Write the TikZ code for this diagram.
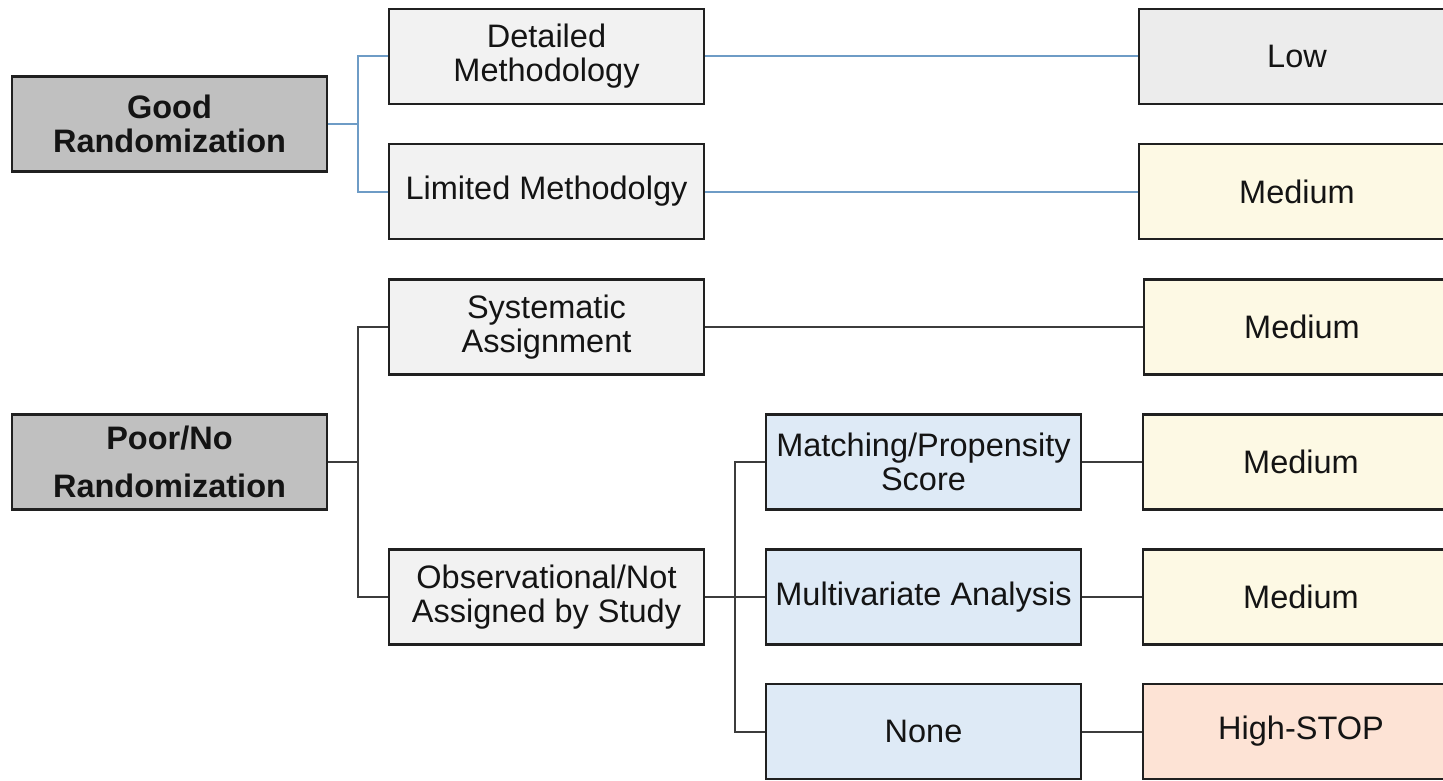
\documentclass[tikz,border=0pt]{standalone}
\usepackage{fontspec}
\setmainfont{Liberation Sans}
\definecolor{rootfill}{HTML}{C0C0C0}
\definecolor{midfill}{HTML}{F2F2F2}
\definecolor{lowfill}{HTML}{ECECEC}
\definecolor{medfill}{HTML}{FDF9E4}
\definecolor{highfill}{HTML}{FDE3D5}
\definecolor{bluefill}{HTML}{DEEAF6}
\definecolor{blueline}{HTML}{6E9CC6}
\definecolor{darkline}{HTML}{3C3C3C}
\definecolor{border}{HTML}{202020}
\definecolor{txt}{HTML}{141414}
\tikzset{
  box/.style={draw=border, line width=2.2pt, rectangle, minimum width=315pt, minimum height=95pt,
    inner sep=0pt, align=center, text=txt, font=\fontsize{32.5}{34}\selectfont},
  rootbox/.style={box, fill=rootfill, font=\fontsize{32.5}{34}\selectfont\bfseries},
  midbox/.style={box, fill=midfill},
  subbox/.style={box, fill=bluefill},
  lowbox/.style={box, fill=lowfill, minimum width=316pt},
  medbox/.style={box, fill=medfill, minimum width=316pt},
  highbox/.style={box, fill=highfill, minimum width=316pt},
  bline/.style={draw=blueline, line width=2pt},
  dline/.style={draw=darkline, line width=2pt}
}
\begin{document}
\begin{tikzpicture}[x=1pt, y=-1pt]
\useasboundingbox (0,0) rectangle (1443,781);
\clip (0,0) rectangle (1443,781);
\fill[white] (0,0) rectangle (1443,781);
\coordinate (g1) at (358,124);
\coordinate (p1) at (358,462);
\coordinate (o1) at (735,597);
% nodes
\node[rootbox] (good) at (169.5,124) {Good\\Randomization};
\node[rootbox] (poor) at (169.5,462) {Poor/No\\[14pt]Randomization};
\node[midbox] (det) at (546.5,56.5) {Detailed\\Methodology};
\node[midbox] (lim) at (546.5,191.5) {Limited Methodolgy};
\node[midbox] (sys) at (546.5,327) {Systematic\\Assignment};
\node[midbox] (obs) at (546.5,597) {Observational/Not\\Assigned by Study};
\node[subbox] (mat) at (923.5,462) {Matching/Propensity\\Score};
\node[subbox] (mul) at (923.5,597) {Multivariate Analysis};
\node[subbox] (non) at (923.5,731.5) {None};
\node[lowbox] (low) at (1297,56.5) {Low};
\node[medbox] (med1) at (1297,191.5) {Medium};
\node[medbox] (med2) at (1302,327) {Medium};
\node[medbox] (med3) at (1301,462) {Medium};
\node[medbox] (med4) at (1301,597) {Medium};
\node[highbox] (high) at (1301,731.5) {High-STOP};
% edges
\draw[bline] (good.east) -- (g1) |- (det.west);
\draw[bline] (g1) |- (lim.west);
\draw[bline] (det.east) -- (low.west);
\draw[bline] (lim.east) -- (med1.west);
\draw[dline] (poor.east) -- (p1) |- (sys.west);
\draw[dline] (p1) |- (obs.west);
\draw[dline] (sys.east) -- (med2.west);
\draw[dline] (obs.east) -- (mul.west);
\draw[dline] (o1) |- (mat.west);
\draw[dline] (o1) |- (non.west);
\draw[dline] (mat.east) -- (med3.west);
\draw[dline] (mul.east) -- (med4.west);
\draw[dline] (non.east) -- (high.west);
\end{tikzpicture}
\end{document}
